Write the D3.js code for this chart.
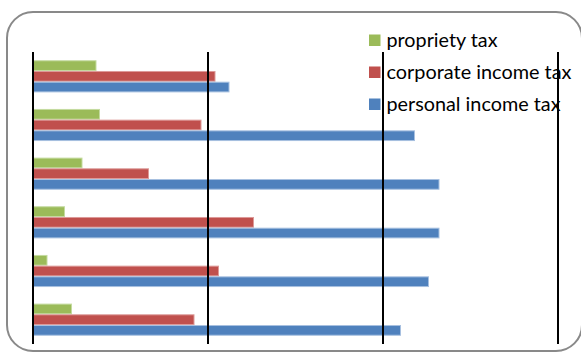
<!DOCTYPE html>
<html>
<head>
<meta charset="utf-8">
<script src="https://cdn.jsdelivr.net/npm/d3@7"></script>
<style>
  html, body { margin: 0; padding: 0; background: #fff; }
  svg { display: block; }
</style>
</head>
<body>
<svg id="chart" width="581" height="356"></svg>
<script>
// Categories (top to bottom) and the three tax series
const categories = ["G1", "G2", "G3", "G4", "G5", "G6"];
const seriesNames = ["propriety tax", "corporate income tax", "personal income tax"];
const proprietyTax = [3.6, 3.8, 2.8, 1.8, 0.8, 2.2];
const corporateIncomeTax = [10.4, 9.6, 6.6, 12.6, 10.6, 9.2];
const personalIncomeTax = [11.2, 21.8, 23.2, 23.2, 22.6, 21.0];
const gridValues = [0, 10, 20, 30];

const seriesValues = [proprietyTax, corporateIncomeTax, personalIncomeTax];
const colors = ["#9BBB59", "#C0504D", "#4F81BD"];
const edgeColors = ["#c4dba0", "#dd9a98", "#a7c0e0"];
const legendWidths = [111, 185, 174];

const svg = d3.select("#chart");

// Outer rounded frame
svg.append("rect")
  .attr("x", 7).attr("y", 12)
  .attr("width", 575).attr("height", 339)
  .attr("rx", 26).attr("ry", 26)
  .attr("fill", "#fff")
  .attr("stroke", "#898989")
  .attr("stroke-width", 2);

const plot = { left: 33, right: 558, top: 52, bottom: 344 };

const x = d3.scaleLinear().domain([0, 30]).range([plot.left, plot.right]);
const y0 = d3.scaleBand().domain(categories).range([plot.top, plot.bottom]).paddingInner(0.34).paddingOuter(0.17);
const y1 = d3.scaleBand().domain(seriesNames).range([0, y0.bandwidth()]);

const rows = categories.map((c, i) => ({
  cat: c,
  vals: seriesNames.map((s, j) => ({ s, j, v: seriesValues[j][i] }))
}));

const groups = svg.append("g").selectAll("g").data(rows).join("g")
  .attr("transform", d => `translate(0,${y0(d.cat)})`);

groups.selectAll("rect").data(d => d.vals).join("rect")
  .attr("x", x(0))
  .attr("y", d => y1(d.s) + 0.5)
  .attr("width", d => x(d.v) - x(0))
  .attr("height", y1.bandwidth() - 1)
  .attr("fill", d => colors[d.j])
  .attr("stroke", d => edgeColors[d.j])
  .attr("stroke-width", 1);

// Legend
const legend = svg.append("g");
seriesNames.forEach((name, j) => {
  const cy = 40.5 + j * 32;
  legend.append("rect")
    .attr("x", 369).attr("y", cy - 6)
    .attr("width", 11.5).attr("height", 11.5)
    .attr("fill", colors[j]);
  legend.append("text")
    .attr("x", 386.5).attr("y", cy)
    .attr("dy", "0.35em")
    .attr("font-family", "Lato, 'Open Sans', sans-serif")
    .attr("font-size", 19)
    .attr("textLength", legendWidths[j])
    .attr("lengthAdjust", "spacingAndGlyphs")
    .attr("fill", "#000")
    .text(name);
});

// Vertical gridlines drawn over bars and legend
svg.append("g").selectAll("line").data(gridValues).join("line")
  .attr("x1", d => x(d)).attr("x2", d => x(d))
  .attr("y1", plot.top).attr("y2", plot.bottom)
  .attr("stroke", "#000")
  .attr("stroke-width", 2);
</script>
</body>
</html>
